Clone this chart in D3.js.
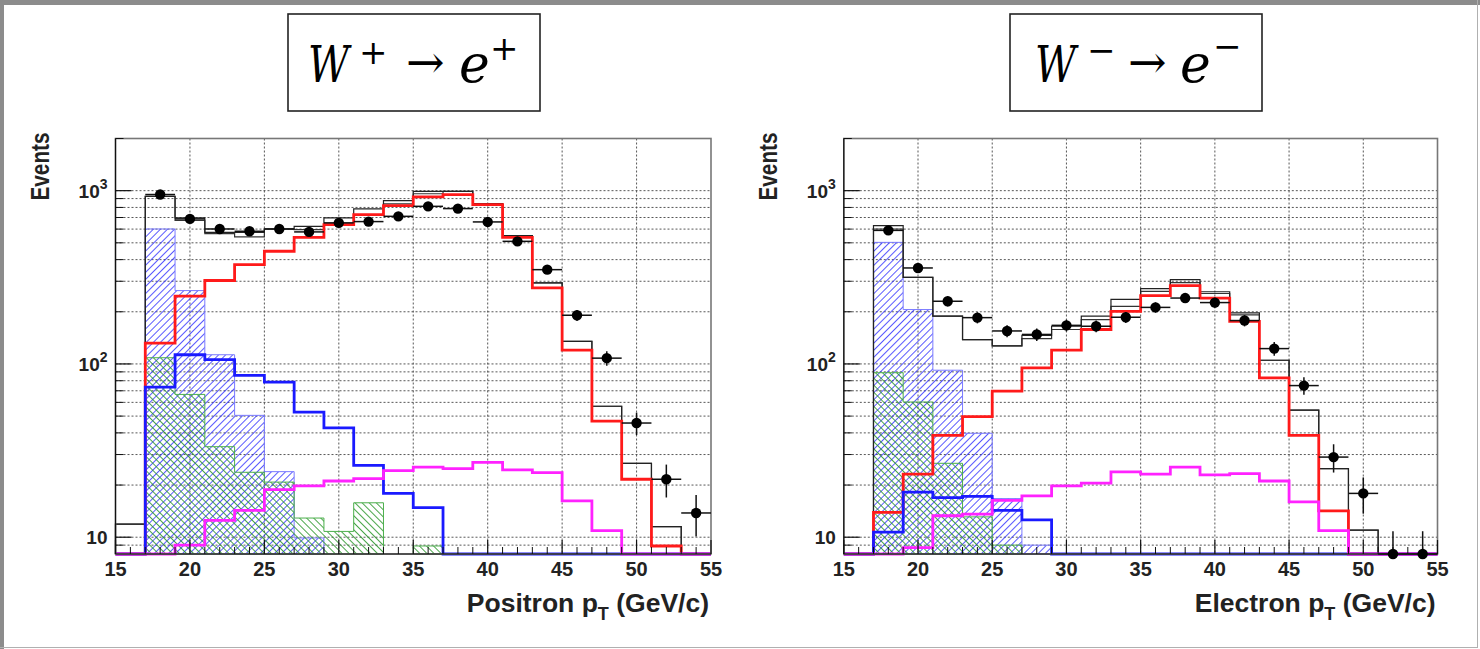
<!DOCTYPE html>
<html><head><meta charset="utf-8">
<script src="https://cdn.jsdelivr.net/npm/d3@7"></script>
<style>body{margin:0;background:#fff}svg{display:block}</style>
</head><body>
<svg id="c" width="1480" height="649"></svg>
<script>
// ---------------- data ----------------
const binEdges = [15,17,19,21,23,25,27,29,31,33,35,37,39,41,43,45,47,49,51,53,55];
const xTicks = [15,20,25,30,35,40,45,50,55];
const yMajorTicks = [10,100,1000];
const yTickLabels = ["10","10","10"];
const yTickExps = ["","2","3"];

// W+ -> e+ panel
const posData    = [null,950,687,601,583,601,578,652,663,711,812,788,660,510,350,191,108,45.6,21.6,13.8];
const posTotalA  = [11.9,927,696,575,575,601,622,696,784,876,991,991,841,551,294,135,57,26.7,11.5,0];
const posTotalB  = [11.9,927,674,565,541,601,596,643,728,840,960,991,841,551,294,135,57,26.7,11.5,0];
const posSignal  = [0,132,246,303,374,447,538,637,728,820,920,948,830,538,275,120,46.8,21.6,8.9,0];
const posBlue    = [0,73.5,113,106,86,78.5,52.7,42.8,26,17.9,14.8,0,0,0,0,0,0,0,0,0];
const posMagenta = [0,0,9.0,12.5,14.3,18.8,19.8,21.1,21.8,24.2,25.4,24.9,27,24.5,23.6,16.2,10.9,0,0,0];
const posQcdHatch   = [0,601,265,113,50.5,23.9,9.9,0,0,0,0,0,0,0,0,0,0,0,0,0];
const posGreenHatch = [0,108.6,66.7,33.3,23.7,20.8,12.9,10.8,15.8,0,8.9,0,0,0,0,0,0,0,0,0];

// W- -> e- panel
const eleData    = [null,590,358,230,185,155,148,167,165,186,212,240,226,178,122.6,75,29,17.9,8,8];
const eleTotalA  = [0,628,316,189,138,127,146,165,189,236,272,307,261,197,105,54.2,24.9,11,0,0];
const eleTotalB  = [0,601,316,189,138,127,140,158,180,215,262,295,255,192,105,54.2,24.9,11,0,0];
const eleSignal  = [0,13.9,23.1,38.7,49.7,69.7,95,120,158,201,248,283,240,176,83,38.7,14.2,0,0,0];
const eleBlue    = [0,10.7,18.2,16.9,17.2,14.3,12.6,0,0,0,0,0,0,0,0,0,0,0,0,0];
const eleMagenta = [0,0,8.7,13.3,13.6,16.3,17.3,19.8,20.5,23.8,23.1,25.4,22.9,23.3,21.1,16,10.9,0,0,0];
const eleQcdHatch   = [0,503,206,92,39.8,16.7,9.0,0,0,0,0,0,0,0,0,0,0,0,0,0];
const eleGreenHatch = [0,89,60.3,26.7,13.1,9.0,0,0,0,0,0,0,0,0,0,0,0,0,0,0];

const panels = [
  {title:["W","+","\u2192","e","+"], box:[288,14,252,97], tx:[308,359,406,459,490], ty:[82,64,78,82,60],
   xr:[115.5,711], xlabel:"Positron p", data:posData, totA:posTotalA, totB:posTotalB,
   sig:posSignal, blue:posBlue, mag:posMagenta, qcd:posQcdHatch, grn:posGreenHatch, titleX:36},
  {title:["W","\u2212","\u2192","e","\u2212"], box:[1010,14,252,97], tx:[1035,1087,1128,1180,1213], ty:[82,62,78,82,58],
   xr:[843.8,1437.5], xlabel:"Electron p", data:eleData, totA:eleTotalA, totB:eleTotalB,
   sig:eleSignal, blue:eleBlue, mag:eleMagenta, qcd:eleQcdHatch, grn:eleGreenHatch, titleX:764}
];

// ---------------- drawing ----------------
const svg = d3.select("#c");
const FONT = "'Liberation Sans', Arial, Helvetica, sans-serif";
const yMin = 8, yMax = 2000;
const yTop = 138.5, yBot = 554;

// outer slide border
svg.append("rect").attr("x",0).attr("y",0).attr("width",1480).attr("height",5).attr("fill","#8c8c8c");
svg.append("rect").attr("x",0).attr("y",0).attr("width",4).attr("height",649).attr("fill","#8c8c8c");
svg.append("line").attr("x1",1477.5).attr("x2",1477.5).attr("y1",0).attr("y2",648).attr("stroke","#b0b0b0");
svg.append("line").attr("x1",0).attr("x2",1478).attr("y1",647.5).attr("y2",647.5).attr("stroke","#b0b0b0");

const defs = svg.append("defs");
function hatch(id, color, angle, op){
  const p = defs.append("pattern").attr("id",id).attr("patternUnits","userSpaceOnUse")
    .attr("width",5).attr("height",10).attr("patternTransform",`rotate(${angle})`);
  p.append("line").attr("x1",0.5).attr("x2",0.5).attr("y1",0).attr("y2",10)
    .attr("stroke",color).attr("stroke-width",1).attr("stroke-opacity",op);
}
hatch("hBlue","#3030ff",45,0.8);
hatch("hGreen","#2a962a",-45,0.85);

panels.forEach((P,pi)=>{
  const g = svg.append("g");
  const x = d3.scaleLinear().domain([15,55]).range(P.xr);
  const y = d3.scaleLog().domain([yMin,yMax]).range([yBot,yTop]);
  const yc = v => (v==null || v<yMin) ? yBot : y(v);
  const x0 = P.xr[0], x1 = P.xr[1];

  // title box
  const [bx,by,bw,bh] = P.box;
  g.append("rect").attr("x",bx).attr("y",by).attr("width",bw).attr("height",bh)
    .attr("fill","#fff").attr("stroke","#222").attr("stroke-width",1.6);
  const sizes = [50,34,46,52,34];
  const styles = ["italic","normal","normal","italic","normal"];
  const lens = [41,null,null,null,null];
  const tt = g.append("text").attr("font-family","'DejaVu Serif','Liberation Serif',serif")
      .attr("fill","#000").attr("font-weight","normal");
  P.title.forEach((s,i)=>{
    const sp = tt.append("tspan").attr("x",P.tx[i]).attr("y",P.ty[i])
      .attr("font-style",styles[i]).attr("font-size",sizes[i]).text(s);
    if(lens[i]) sp.attr("textLength",lens[i]).attr("lengthAdjust","spacingAndGlyphs");
  });

  // grid
  const yGrid = [9,10,20,30,40,50,60,70,80,90,100,200,300,400,500,600,700,800,900,1000];
  g.selectAll(".hg").data(yGrid).join("line")
    .attr("x1",x0).attr("x2",x1).attr("y1",d=>y(d)).attr("y2",d=>y(d))
    .attr("stroke","#444").attr("stroke-width",0.9).attr("stroke-dasharray","2,2");
  g.selectAll(".vg").data(xTicks.slice(1,-1)).join("line")
    .attr("x1",d=>x(d)).attr("x2",d=>x(d)).attr("y1",yTop).attr("y2",yBot)
    .attr("stroke","#444").attr("stroke-width",0.9).attr("stroke-dasharray","2,2");

  // histogram path helpers
  function stepPts(vals){
    const pts = [[x(binEdges[0]), yBot]];
    vals.forEach((v,i)=>{
      pts.push([x(binEdges[i]), yc(v)]);
      pts.push([x(binEdges[i+1]), yc(v)]);
    });
    pts.push([x(binEdges[binEdges.length-1]), yBot]);
    return pts;
  }
  const line = d3.line();
  function filledHist(vals, fill, stroke){
    const segs = [];
    let cur = null;
    vals.forEach((v,i)=>{ if(v>=yMin){ if(!cur){cur=[];segs.push(cur);} cur.push(i);} else cur=null; });
    segs.forEach(s=>{
      const pts=[[x(binEdges[s[0]]),yBot]];
      s.forEach(i=>{pts.push([x(binEdges[i]),y(vals[i])]);pts.push([x(binEdges[i+1]),y(vals[i])]);});
      pts.push([x(binEdges[s[s.length-1]+1]),yBot]);
      g.append("path").attr("d",line(pts)+"Z").attr("fill",fill).attr("stroke",stroke).attr("stroke-width",1);
    });
  }
  filledHist(P.qcd,"url(#hBlue)","#7a7aff");
  filledHist(P.grn,"url(#hGreen)","#4caf4c");

  function stepLine(vals,color,w){
    g.append("path").attr("d",line(stepPts(vals))).attr("fill","none")
      .attr("stroke",color).attr("stroke-width",w).attr("stroke-linejoin","miter");
  }
  stepLine(P.totB,"#333",1.2);
  stepLine(P.totA,"#222",1.2);
  stepLine(P.sig,"#ff1a1a",2.8);
  stepLine(P.blue,"#1a1aff",2.8);
  stepLine(P.mag,"#ff22ff",2.8);

  // frame
  g.append("rect").attr("x",x0).attr("y",yTop).attr("width",x1-x0).attr("height",yBot-yTop)
    .attr("fill","none").attr("stroke","#777").attr("stroke-width",1.6);
  g.append("line").attr("x1",x0).attr("x2",x0).attr("y1",yTop).attr("y2",yBot).attr("stroke","#111").attr("stroke-width",1.2);
  g.append("line").attr("x1",x0).attr("x2",x1).attr("y1",yBot).attr("y2",yBot).attr("stroke","#111").attr("stroke-width",1.2);

  // y ticks
  const minorY = [9,20,30,40,50,60,70,80,90,200,300,400,500,600,700,800,900,2000];
  g.selectAll(".ym").data(minorY).join("line").attr("x1",x0).attr("x2",x0+8)
    .attr("y1",d=>y(d)).attr("y2",d=>y(d)).attr("stroke","#111").attr("stroke-width",1);
  g.selectAll(".yM").data(yMajorTicks).join("line").attr("x1",x0).attr("x2",x0+16)
    .attr("y1",d=>y(d)).attr("y2",d=>y(d)).attr("stroke","#111").attr("stroke-width",1.2);
  yMajorTicks.forEach((v,i)=>{
    const tl = g.append("text").attr("x",x0-8).attr("y",y(v)+7).attr("text-anchor","end")
      .attr("font-family",FONT).attr("font-weight","bold").attr("font-size",19).attr("fill","#222");
    tl.append("tspan").text(yTickLabels[i]);
    if(yTickExps[i]) tl.append("tspan").attr("font-size",14).attr("dy",-9).text(yTickExps[i]);
  });
  // x ticks
  const minorX = d3.range(16,55,1).filter(d=>d%5!==0);
  g.selectAll(".xm").data(minorX).join("line").attr("x1",d=>x(d)).attr("x2",d=>x(d))
    .attr("y1",yBot).attr("y2",yBot-7).attr("stroke","#111").attr("stroke-width",1);
  g.selectAll(".xM").data(xTicks).join("line").attr("x1",d=>x(d)).attr("x2",d=>x(d))
    .attr("y1",yBot).attr("y2",yBot-14).attr("stroke","#111").attr("stroke-width",1.2);
  g.selectAll(".xl").data(xTicks).join("text").attr("x",d=>x(d)).attr("y",576)
    .attr("text-anchor","middle").attr("font-family",FONT).attr("font-weight","bold")
    .attr("font-size",20).attr("fill","#222").text(d=>d);

  // axis titles
  const xt = g.append("text").attr("x",x1-2).attr("y",612).attr("text-anchor","end")
    .attr("font-family",FONT).attr("font-weight","bold").attr("font-size",26.5).attr("fill","#222");
  xt.append("tspan").text(P.xlabel);
  xt.append("tspan").attr("font-size",18).attr("dy",8).text("T");
  xt.append("tspan").attr("dy",-8).text(" (GeV/c)");
  g.append("text").attr("transform",`translate(${P.titleX+13},${yTop-6}) rotate(-90)`)
    .attr("text-anchor","end").attr("font-family",FONT).attr("font-weight","bold")
    .attr("font-size",25).attr("textLength",68).attr("lengthAdjust","spacingAndGlyphs")
    .attr("fill","#222").text("Events");

  // data points
  const pts = P.data.map((v,i)=>({v, c:(binEdges[i]+binEdges[i+1])/2, lo:binEdges[i], hi:binEdges[i+1]})).filter(d=>d.v!=null);
  pts.forEach(d=>{
    const e = Math.sqrt(d.v);
    g.append("line").attr("x1",x(d.lo)).attr("x2",x(d.hi)).attr("y1",yc(d.v)).attr("y2",yc(d.v))
      .attr("stroke","#111").attr("stroke-width",1.5);
    g.append("line").attr("x1",x(d.c)).attr("x2",x(d.c)).attr("y1",yc(d.v+e)).attr("y2",yc(d.v-e))
      .attr("stroke","#111").attr("stroke-width",1.5);
  });
  g.selectAll(".dp").data(pts).join("circle").attr("cx",d=>x(d.c)).attr("cy",d=>yc(d.v))
    .attr("r",5.2).attr("fill","#000");
});
</script>
</body></html>
